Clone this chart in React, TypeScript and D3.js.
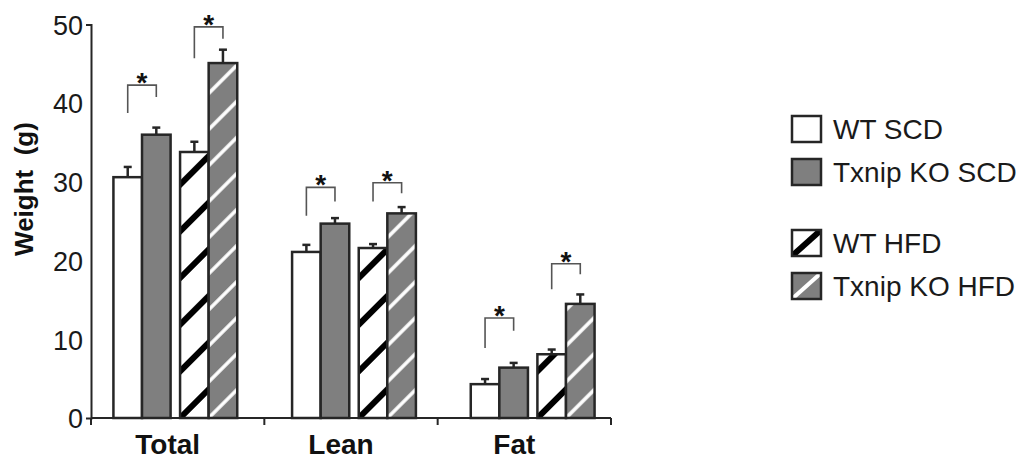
import { useEffect, useRef } from "react";
import * as d3 from "d3";

const categories = ["Total", "Lean", "Fat"];
const seriesNames = ["WT SCD", "Txnip KO SCD", "WT HFD", "Txnip KO HFD"];

// means (g)
const wtScd = [30.6, 21.1, 4.3];
const koScd = [36.0, 24.7, 6.4];
const wtHfd = [33.8, 21.6, 8.1];
const koHfd = [45.1, 26.0, 14.5];

// SEM
const wtScdErr = [1.3, 0.9, 0.65];
const koScdErr = [0.9, 0.7, 0.6];
const wtHfdErr = [1.3, 0.5, 0.6];
const koHfdErr = [1.7, 0.8, 1.2];

// significance brackets: [top, left leg end, right leg end]
const scdBrackets = [[42.3, 38.75, 40.8], [29.3, 25.7, 27.5], [12.7, 8.9, 11.1]];
const hfdBrackets = [[49.7, 45.7, 48.2], [29.9, 27.5, 28.55], [19.6, 16.35, 18.25]];

const yTicks = [0, 10, 20, 30, 40, 50];

const FONT = "'Liberation Sans', Arial, Helvetica, sans-serif";
const GREY = "#7f7f7f";
const INK = "#262626";

export default function App() {
  const svgRef = useRef<SVGSVGElement>(null);

  useEffect(() => {
    const svg = d3.select(svgRef.current);
    svg.selectAll("*").remove();

    const width = 1021;
    const height = 462;
    svg.attr("width", width).attr("height", height);
    svg.append("rect").attr("width", width).attr("height", height).attr("fill", "#fff");

    const y = d3.scaleLinear().domain([0, 50]).range([418, 24.5]);
    const x = d3.scaleBand().domain(categories).range([86, 622]).padding(0);
    const xAxis = d3.scaleBand().domain(categories).range([91, 611]).padding(0);

    const means = [wtScd, koScd, wtHfd, koHfd];
    const errs = [wtScdErr, koScdErr, wtHfdErr, koHfdErr];

    const bw = x.bandwidth() * 0.16;
    const gap = x.bandwidth() * 0.053;
    const groupW = 4 * bw + gap;
    const barX = (ci: number, si: number) =>
      x(categories[ci])! + x.bandwidth() / 2 - groupW / 2 + si * bw + (si >= 2 ? gap : 0);

    const defs = svg.append("defs");

    // bars
    const bars: { ci: number; si: number; v: number; e: number }[] = [];
    categories.forEach((_, ci) => {
      seriesNames.forEach((_, si) => bars.push({ ci, si, v: means[si][ci], e: errs[si][ci] }));
    });

    const fillFor = (d: { ci: number; si: number }) => {
      if (d.si < 2) return d.si === 0 ? "#fff" : GREY;
      const id = `hatch-${d.ci}-${d.si}`;
      const dark = d.si === 2;
      const period = dark ? 33 : 25.5;
      const thick = dark ? 6 : 3.5;
      const p = defs.append("pattern")
        .attr("id", id)
        .attr("patternUnits", "userSpaceOnUse")
        .attr("width", 200)
        .attr("height", period)
        .attr("patternTransform", `translate(${barX(d.ci, d.si)},${y(0)}) rotate(-45)`);
      p.append("rect").attr("width", 200).attr("height", period).attr("fill", dark ? "#fff" : GREY);
      p.append("rect").attr("y", -thick / 2).attr("width", 200).attr("height", thick).attr("fill", dark ? "#000" : "#fff");
      p.append("rect").attr("y", period - thick / 2).attr("width", 200).attr("height", thick).attr("fill", dark ? "#000" : "#fff");
      return `url(#${id})`;
    };

    const g = svg.append("g");

    // error bars
    g.selectAll("g.err")
      .data(bars)
      .join("g")
      .attr("class", "err")
      .each(function (d) {
        const cx = barX(d.ci, d.si) + bw / 2;
        const sel = d3.select(this);
        sel.append("line").attr("x1", cx).attr("x2", cx).attr("y1", y(d.v)).attr("y2", y(d.v + d.e))
          .attr("stroke", INK).attr("stroke-width", 2.5);
        sel.append("line").attr("x1", cx - 4).attr("x2", cx + 4).attr("y1", y(d.v + d.e)).attr("y2", y(d.v + d.e))
          .attr("stroke", INK).attr("stroke-width", 2.5);
      });

    g.selectAll("rect.bar")
      .data(bars)
      .join("rect")
      .attr("class", "bar")
      .attr("x", (d) => barX(d.ci, d.si))
      .attr("y", (d) => y(d.v))
      .attr("width", bw)
      .attr("height", (d) => y(0) - y(d.v))
      .attr("fill", (d) => fillFor(d))
      .attr("stroke", INK)
      .attr("stroke-width", 2.5);

    // significance brackets
    const brk = [
      ...scdBrackets.map((b, ci) => ({ ci, left: 0, b })),
      ...hfdBrackets.map((b, ci) => ({ ci, left: 2, b })),
    ];
    brk.forEach(({ ci, left, b }) => {
      const x1 = barX(ci, left) + bw / 2;
      const x2 = barX(ci, left + 1) + bw / 2;
      g.append("path")
        .attr("d", `M${x1},${y(b[1])}V${y(b[0])}H${x2}V${y(b[2])}`)
        .attr("fill", "none")
        .attr("stroke", "#555")
        .attr("stroke-width", 1.6);
      g.append("text")
        .attr("x", (x1 + x2) / 2)
        .attr("y", y(b[0]) + 7)
        .attr("text-anchor", "middle")
        .attr("font-family", FONT)
        .attr("font-weight", "bold")
        .attr("font-size", 28)
        .attr("fill", "#111")
        .text("*");
    });

    // y axis
    const yAxis = svg.append("g")
      .attr("transform", `translate(${xAxis.range()[0]},0)`)
      .call(d3.axisLeft(y).tickValues(yTicks).tickSizeInner(0).tickSizeOuter(5).tickPadding(8));
    yAxis.select(".domain").attr("stroke", INK).attr("stroke-width", 2);
    yAxis.selectAll("text")
      .attr("font-family", FONT)
      .attr("font-size", 27)
      .attr("fill", "#1a1a1a")
      .attr("dy", "0.36em");

    // x axis
    const [ax0, ax1] = xAxis.range();
    const xg = svg.append("g");
    xg.append("line").attr("x1", ax0).attr("x2", ax1).attr("y1", y(0)).attr("y2", y(0))
      .attr("stroke", INK).attr("stroke-width", 2);
    const tickXs = [ax0, ...categories.slice(1).map((c) => xAxis(c)!), ax1];
    xg.selectAll("line.tick")
      .data(tickXs)
      .join("line")
      .attr("class", "tick")
      .attr("x1", (d) => d).attr("x2", (d) => d)
      .attr("y1", y(0)).attr("y2", y(0) + 7)
      .attr("stroke", INK).attr("stroke-width", 2);
    xg.selectAll("text")
      .data(categories)
      .join("text")
      .attr("x", (d) => xAxis(d)! + xAxis.bandwidth() / 2 - 10)
      .attr("y", 454)
      .attr("text-anchor", "middle")
      .attr("font-family", FONT)
      .attr("font-weight", "bold")
      .attr("font-size", 28)
      .attr("fill", "#111")
      .text((d) => d);

    // y title
    svg.append("text")
      .attr("transform", `translate(33,189) rotate(-90)`)
      .attr("text-anchor", "middle")
      .attr("font-family", FONT)
      .attr("font-weight", "bold")
      .attr("font-size", 26)
      .attr("fill", "#111")
      .attr("xml:space", "preserve")
      .style("white-space", "pre")
      .text("Weight  (g)");

    // legend
    const lg = svg.append("g").attr("transform", "translate(792,116)");
    seriesNames.forEach((name, i) => {
      const top = i * 43 + (i >= 2 ? 28 : 0);
      const item = lg.append("g").attr("transform", `translate(0,${top})`);
      const bx = 29;
      const by = 26;
      const clipId = `leg-clip-${i}`;
      defs.append("clipPath").attr("id", clipId).append("rect").attr("width", bx).attr("height", by);
      item.append("rect").attr("width", bx).attr("height", by).attr("fill", i === 0 || i === 2 ? "#fff" : GREY);
      if (i >= 2) {
        item.append("line")
          .attr("clip-path", `url(#${clipId})`)
          .attr("x1", 0).attr("y1", by).attr("x2", bx).attr("y2", 0)
          .attr("stroke", i === 2 ? "#000" : "#fff")
          .attr("stroke-width", i === 2 ? 6 : 4);
      }
      item.append("rect").attr("width", bx).attr("height", by).attr("fill", "none")
        .attr("stroke", INK).attr("stroke-width", 2.5);
      item.append("text")
        .attr("x", 41)
        .attr("y", by / 2 + 10)
        .attr("font-family", FONT)
        .attr("font-size", 28)
        .attr("fill", "#1a1a1a")
        .text(name);
    });
  }, []);

  return (
    <svg
      ref={svgRef}
      style={{ position: "absolute", left: 0, top: 0, display: "block" }}
    />
  );
}
